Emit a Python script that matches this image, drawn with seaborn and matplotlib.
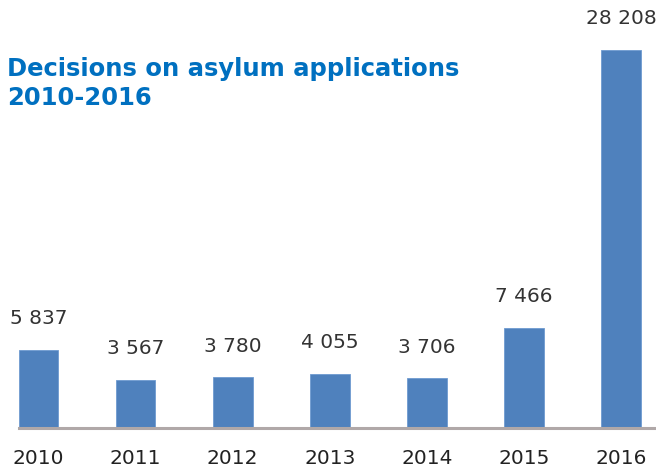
import matplotlib
matplotlib.use("Agg")
import matplotlib.pyplot as plt
import seaborn as sns
import pandas as pd

years = ["2010", "2011", "2012", "2013", "2014", "2015", "2016"]
decisions = [5837, 3567, 3780, 4055, 3706, 7466, 28208]
labels = ["5 837", "3 567", "3 780", "4 055", "3 706", "7 466", "28 208"]
title_lines = ["Decisions on asylum applications", "2010-2016"]

sns.set_theme(style="white")
plt.rcParams['font.family'] = ['DejaVu Sans']

df = pd.DataFrame({"year": years, "value": decisions})

fig = plt.figure(figsize=(6.56, 4.67), dpi=100)
ax = fig.add_axes([19/656, 39/467, (656-19)/656, 428/467])
sns.barplot(data=df, x="year", y="value", color="#4f81bd", width=0.41,
            saturation=1, ax=ax, edgecolor="#6f9bd0", linewidth=0.6)

for i, (v, lab) in enumerate(zip(decisions, labels)):
    ax.annotate(lab, xy=(i, v), xytext=(0, 22.5), textcoords="offset points",
                ha="center", va="center", fontsize=14.5, color="#333333",
                annotation_clip=False)

ax.set_xlim(-0.2, 6.36)
ax.set_ylim(0, 31940)
for s in ["top", "right", "left"]:
    ax.spines[s].set_visible(False)
ax.spines["bottom"].set_color("#b0a8a8")
ax.spines["bottom"].set_linewidth(2.2)
ax.set_yticks([])
ax.set_xlabel("")
ax.set_ylabel("")
ax.tick_params(axis="x", length=0, pad=15, labelsize=14.5, labelcolor="#222222")

fig.text(7/656, 1 - 76/467, title_lines[0], ha="left", va="baseline",
         fontsize=17.5, fontweight="bold", color="#0070c0")
fig.text(7/656, 1 - 105/467, title_lines[1], ha="left", va="baseline",
         fontsize=17.5, fontweight="bold", color="#0070c0")
fig.savefig("out.png", dpi=100)
